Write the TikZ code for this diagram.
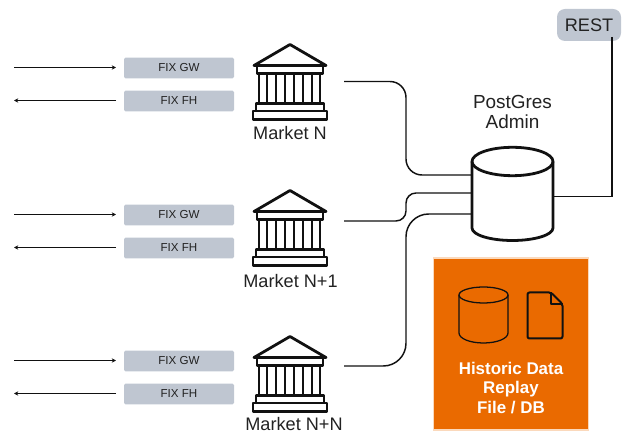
\documentclass[tikz,border=0pt]{standalone}
\usepackage{fontspec}
\setmainfont{Liberation Sans}
\usetikzlibrary{arrows.meta}
\definecolor{boxgrey}{HTML}{BFC6D1}
\definecolor{ink}{HTML}{111111}
\definecolor{txt}{HTML}{222222}
\definecolor{orangefill}{HTML}{EA6A00}
\definecolor{orangeedge}{HTML}{FBD9BC}
\tikzset{
  fixbox/.style={fill=boxgrey,rounded corners=1.2pt,minimum width=82.5pt,minimum height=15.6pt,inner sep=0pt,font=\fontsize{8.7pt}{10pt}\selectfont,text=txt},
  flow/.style={draw=ink,line width=0.8pt,-{Stealth[length=3.2pt,width=3.2pt]}},
  link/.style={draw=ink,line width=1.1pt},
  thick line/.style={draw=ink,line width=2.1pt,line join=round,line cap=round},
  marketlabel/.style={font=\fontsize{13.6pt}{15pt}\selectfont,text=txt,inner sep=0pt},
  temple/.pic={
    \draw[thick line] (-36,21) -- (0,0) -- (36,21) -- cycle;
    \draw[thick line] (-33,21) rectangle (33,29);
    \foreach \c in {-31,-23,-14,-5,4,13,22,30}
      \draw[draw=ink,line width=2.1pt] (\c,29) -- (\c,59);
    \draw[thick line] (-34,59) rectangle (34,66.5);
    \draw[thick line] (-37,66.5) rectangle (37,75);
  }
}
\begin{document}
\begin{tikzpicture}[x=0.75pt,y=-0.75pt]
\useasboundingbox (0,0) rectangle (636,441);
% markets
\pic at (290,44.5) {temple};
\pic at (290,190.5) {temple};
\pic at (290,336.5) {temple};
\node[marketlabel] (mA) at (290,133) {Market N};
\node[marketlabel] (mB) at (290.5,281) {Market N+1};
\node[marketlabel] (mC) at (294,424) {Market N+N};
% FIX boxes and arrows
\foreach \n/\g/\f in {A/67.5/100.5,B/214.5/247.5,C/360.5/393.5}{
  \node[fixbox] (gw\n) at (179,\g+0.5) {FIX GW};
  \node[fixbox] (fh\n) at (179,\f+0.5) {FIX FH};
  \coordinate (gwout\n) at (14,\g);
  \coordinate (gwin\n) at (116,\g);
  \coordinate (fhout\n) at (14,\f);
  \coordinate (fhin\n) at (116,\f);
  \draw[flow] (gwout\n) -- (gwin\n);
  \draw[flow] (fhin\n) -- (fhout\n);
}
% database
\node[inner sep=0pt,minimum width=60.75pt,minimum height=70pt] (db) at (512.5,193.5) {};
\draw[thick line,fill=white] (472,162) -- (472,228) arc[start angle=180,end angle=0,x radius=40.5,y radius=12.5] -- (553,162);
\draw[thick line] (512.5,161.5) ellipse[x radius=40.5,y radius=14.2];
\node[font=\fontsize{14.2pt}{15pt}\selectfont,text=txt,align=center,inner sep=0pt] (dbl) at (512.5,112) {PostGres\\Admin};
% connectors
\coordinate (sA) at (344,81.5);
\coordinate (sB) at (344,221);
\coordinate (sC) at (344,366);
\coordinate (eA) at (472,175);
\coordinate (eB) at (472,193);
\coordinate (eC) at (472,214);
\coordinate (tA) at (406,81.5);
\coordinate (tB) at (406,221);
\draw[link,rounded corners=12pt] (sA) -- (tA) -- (tA |- eA) -- (eA);
\draw[link,rounded corners=7.5pt] (sB) -- (tB) -- (tB |- eB) -- (eB);
\draw[link,rounded corners=17pt] (sC) -- (tA |- sC) -- (tA |- eC) -- (eC);
% REST
\node[fill=boxgrey,rounded corners=6pt,minimum width=48pt,minimum height=24pt,inner sep=0pt,font=\fontsize{13.6pt}{15pt}\selectfont,text=txt] (rest) at (589,25) {REST};
\coordinate (dbr) at (553,196.5);
\coordinate (rb) at (612,37);
\draw[draw=ink,line width=1.1pt] (rb) -- (rb |- dbr) -- (dbr);
% historic data
\node[draw=orangeedge,fill=orangefill,line width=0.9pt,minimum width=116pt,minimum height=129pt,inner sep=0pt] (hist) at (511,344) {};
\draw[draw=ink,line width=0.95pt] (459,295) -- (459,333) arc[start angle=180,end angle=0,x radius=24.5,y radius=10] -- (508,295);
\draw[draw=ink,line width=0.95pt] (483.5,295) ellipse[x radius=24.5,y radius=8];
\draw[draw=ink,line width=1.5pt,line join=round,rounded corners=1.5pt] (551,292.5) -- (527.5,292.5) -- (527.5,338.5) -- (562.5,338.5) -- (562.5,304) -- cycle;
\draw[draw=ink,line width=1.2pt,line join=round] (551,292.5) -- (551,304) -- (562.5,304);
\node[font=\bfseries\fontsize{12.7pt}{14.3pt}\selectfont,text=white,align=center,inner sep=0pt] (histl) at (511,388) {Historic Data\\Replay\\File / DB};
\end{tikzpicture}
\end{document}
